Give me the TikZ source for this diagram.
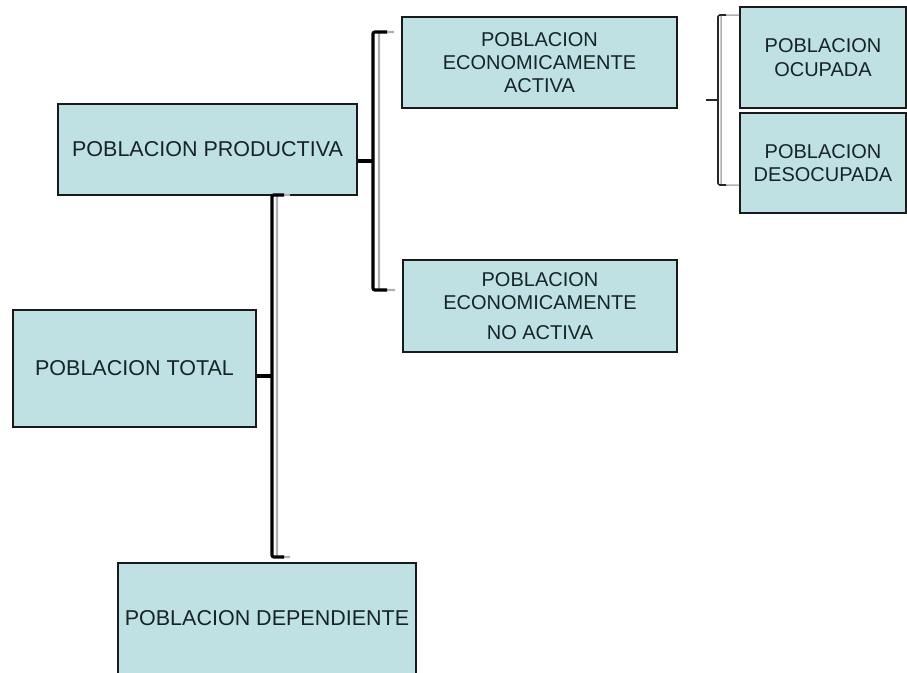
\documentclass[tikz,border=0pt]{standalone}
\usepackage{fontspec}
\setmainfont{Liberation Sans}
\usetikzlibrary{positioning}
\definecolor{boxfill}{HTML}{BFE1E4}
\definecolor{boxline}{HTML}{1A1A1A}
\definecolor{txtcol}{HTML}{172426}
\definecolor{shadowline}{HTML}{B0B0B0}

\begin{document}
\begin{tikzpicture}[x=1pt,y=-1pt,
 bx/.style={draw=boxline, line width=1.8pt, fill=boxfill, text=txtcol, align=center,
  inner sep=0pt, font=\fontsize{21.5}{23.5}\selectfont},
 bxs/.style={bx, font=\fontsize{20}{23.3}\selectfont},
 brk/.style={draw=black, line width=3.2pt, rounded corners=2pt},
 brkgr/.style={draw=shadowline, line width=2.2pt, rounded corners=2pt},
 thinbrk/.style={draw=black!85, line width=1.6pt, rounded corners=2pt},
 thingr/.style={draw=shadowline, line width=1.5pt, rounded corners=2pt}]
\useasboundingbox (0,0) rectangle (907,672);

% boxes
\node[bx,minimum width=299pt,minimum height=91pt](prod) at (207.5,149.5){POBLACION PRODUCTIVA};
\node[bx,minimum width=243pt,minimum height=117pt](tot) at (134.5,368.5){POBLACION TOTAL};
\node[bx,minimum width=298pt,minimum height=111pt](dep) at (267,618.5){POBLACION DEPENDIENTE};
\node[bxs,minimum width=275pt,minimum height=91pt](ea) at (539.5,62.5){POBLACION\\ECONOMICAMENTE\\ACTIVA};
\node[bxs,minimum width=274pt,minimum height=92pt](nea) at (540,306){POBLACION\\ECONOMICAMENTE\\[7pt]NO ACTIVA};
\node[bxs,minimum width=166pt,minimum height=101pt](ocu) at (823,57.5){POBLACION\\OCUPADA};
\node[bxs,minimum width=166pt,minimum height=100pt](des) at (823,163){POBLACION\\DESOCUPADA};

% brace: total -> productiva / dependiente
\coordinate (b2t) at (272,195);
\coordinate (b2m) at (272,376);
\coordinate (b2b) at (272,557);
\draw[brkgr]([xshift=18pt]b2t)--([xshift=5pt]b2t)--([xshift=5pt]b2b)--([xshift=18pt]b2b);
\draw[brk]([xshift=12pt]b2t)--(b2t)--(b2b)--([xshift=12pt]b2b);
\draw[brk](tot.east |- b2m)--(b2m);

% brace: productiva -> activa / no activa
\coordinate (b1t) at (373,32);
\coordinate (b1m) at (373,161);
\coordinate (b1b) at (373,290);
\draw[brkgr]([xshift=-7pt]ea.west |- b1t)--([xshift=6pt]b1t)--([xshift=6pt]b1b)--([xshift=-7pt]nea.west |- b1b);
\draw[brk]([xshift=14pt]b1t)--(b1t)--(b1b)--([xshift=14pt]b1b);
\draw[brk](prod.east |- b1m)--(b1m);

% brace: activa -> ocupada / desocupada
\coordinate (b3t) at (718,15);
\coordinate (b3m) at (718,100);
\coordinate (b3b) at (718,185);
\draw[thingr](ocu.west |- b3t)--([xshift=3pt]b3t)--([xshift=3pt]b3b)--(des.west |- b3b);
\draw[thinbrk]([xshift=8pt]b3t)--(b3t)--(b3b)--([xshift=8pt]b3b);
\draw[thinbrk]([xshift=-12pt]b3m)--(b3m);

\end{tikzpicture}
\end{document}
